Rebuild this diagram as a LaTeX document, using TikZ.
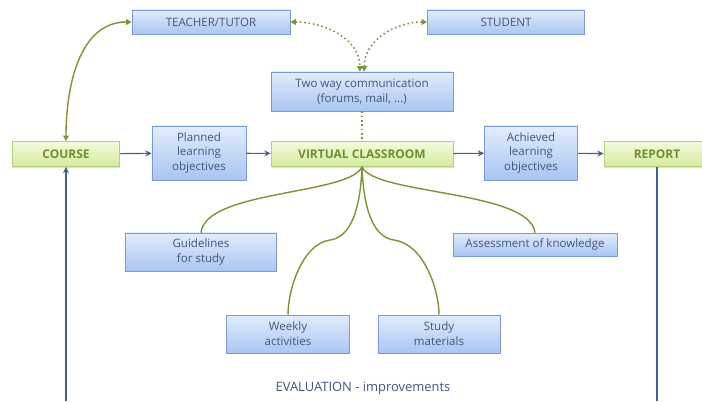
\documentclass[tikz,border=0pt]{standalone}
\usepackage{fontspec}
\setsansfont{Open Sans}
\usetikzlibrary{arrows.meta,shadows}

\definecolor{boxline}{HTML}{7B9BD0}
\definecolor{bluetop}{HTML}{E2ECFC}
\definecolor{bluebot}{HTML}{A9C6F2}
\definecolor{bluetext}{HTML}{3F567F}
\definecolor{greenline}{HTML}{B5D27A}
\definecolor{greentop}{HTML}{F3FADB}
\definecolor{greenbot}{HTML}{D5EC9E}
\definecolor{greentext}{HTML}{6F8F2E}
\definecolor{branchgreen}{HTML}{7A943A}
\definecolor{flowblue}{HTML}{41618F}

\begin{document}
\begin{tikzpicture}[
    x=0.025cm, y=-0.025cm,
    infobox/.style={draw=boxline, top color=bluetop, bottom color=bluebot, text=bluetext,
        font=\sffamily\fontsize{8.2}{10.6}\selectfont, align=center, inner sep=0pt,
        drop shadow={opacity=0.25, shadow xshift=0.6pt, shadow yshift=-0.8pt}},
    stagebox/.style={draw=greenline, top color=greentop, bottom color=greenbot, text=greentext,
        font=\sffamily\bfseries\fontsize{8.5}{10}\selectfont, inner sep=0pt,
        minimum height=0.625cm,
        drop shadow={opacity=0.25, shadow xshift=0.6pt, shadow yshift=-0.8pt}},
    flow/.style={-{Stealth[length=1.6mm, width=1.5mm]}, thick, flowblue},
    branch/.style={line width=1pt, branchgreen},
    talk/.style={{Triangle[length=1.4mm, width=1.4mm]}-{Triangle[length=1.4mm, width=1.4mm]},
        line width=1.1pt, dotted, branchgreen}
]
\useasboundingbox (0,0) rectangle (702,401);

% People on top
\node[infobox, minimum width=3.95cm, minimum height=0.6cm] (teacher) at (211,22) {TEACHER/TUTOR};
\node[infobox, minimum width=3.925cm, minimum height=0.6cm] (student) at (506,22) {STUDENT};
\node[infobox, minimum width=4.55cm, minimum height=0.975cm] (talkbox) at (362,91.5) {Two way communication\\(forums, mail, ...)};

% Main row
\node[stagebox, minimum width=2.675cm] (course) at (66,154) {COURSE};
\node[infobox, minimum width=2.35cm, minimum height=1.35cm] (planned) at (199,153) {Planned\\learning\\objectives};
\node[stagebox, minimum width=4.55cm] (classroom) at (362,154) {VIRTUAL CLASSROOM};
\node[infobox, minimum width=2.325cm, minimum height=1.35cm] (achieved) at (531,153) {Achieved\\learning\\objectives};
\node[stagebox, minimum width=2.65cm] (report) at (657,154) {REPORT};

% Parts of the classroom
\node[infobox, minimum width=3.775cm, minimum height=0.95cm] (guide) at (201,252) {Guidelines\\for study};
\node[infobox, minimum width=4.1cm, minimum height=0.575cm] (assess) at (535,244.5) {Assessment of knowledge};
\node[infobox, minimum width=3.075cm, minimum height=0.95cm] (weekly) at (288,334) {Weekly\\activities};
\node[infobox, minimum width=3.05cm, minimum height=0.95cm] (study) at (439,334) {Study\\materials};

% Evaluation loop
\node[text=bluetext, font=\sffamily\fontsize{9.2}{11}\selectfont] (evaluation) at (363,388) {EVALUATION - improvements};
\coordinate (loopL) at (66,401);
\coordinate (loopR) at (657,401);

% Course - teacher
\draw[branch, {Triangle[length=1.4mm, width=1.4mm]}-{Triangle[length=1.4mm, width=1.4mm]}]
    (course.north) to[out=90, in=180] (teacher.west);

% Communication
\draw[talk] (teacher.east) to[out=0, in=90] ([xshift=-1.5pt]talkbox.north);
\draw[talk] (student.west) to[out=180, in=90] ([xshift=1.5pt]talkbox.north);
\draw[line width=1.1pt, dotted, branchgreen] (talkbox.south) -- (classroom.north);

% Flow along the main row
\draw[flow] (course) -- (planned);
\draw[flow] (planned) -- (classroom);
\draw[flow] (classroom) -- (achieved);
\draw[flow] (achieved) -- (report);
\draw[flow] (loopL) -- (course.south);
\draw[thick, flowblue] (report.south) -- (loopR);

% Branches
\draw[branch] (classroom.south) .. controls (350,195) and (205,190) .. (guide.north);
\draw[branch] (classroom.south) .. controls (374,195) and (530,190) .. (assess.north);
\draw[branch] (classroom.south) .. controls (360,222) and (345,238) .. (330,240)
    .. controls (302,244) and (288,290) .. (weekly.north);
\draw[branch] (classroom.south) .. controls (364,222) and (379,238) .. (394,240)
    .. controls (424,244) and (439,290) .. (study.north);

\end{tikzpicture}
\end{document}
